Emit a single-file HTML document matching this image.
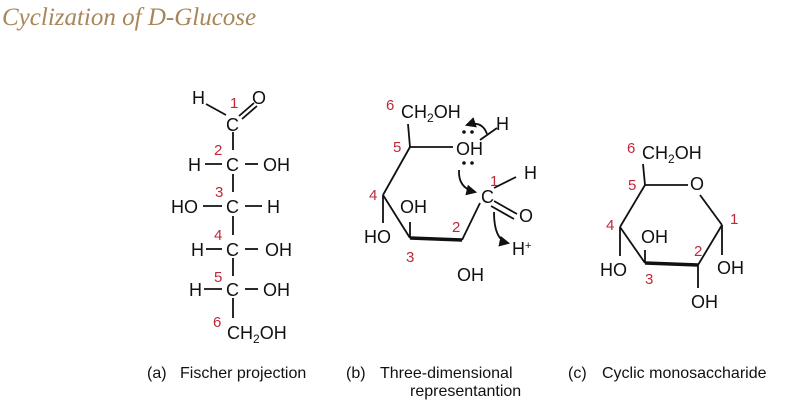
<!DOCTYPE html>
<html><head><meta charset="utf-8"><style>
html,body{margin:0;padding:0;background:#fff;}
svg{display:block;}
text{font-family:"Liberation Sans",sans-serif;}
.t{font-size:18px;fill:#111;}
.n{font-size:15px;fill:#c0283a;}
.c{font-size:16px;fill:#111;}
</style></head><body>
<svg width="800" height="405" viewBox="0 0 800 405" xmlns="http://www.w3.org/2000/svg">
<defs><marker id="ah" viewBox="0 0 10 10" refX="8" refY="5" markerWidth="6" markerHeight="6" orient="auto"><path d="M0,0 L10,5 L0,10 z" fill="#111"/></marker></defs>
<text x="2" y="25" style="font-family:'Liberation Serif',serif;font-style:italic;font-size:25px;fill:#a8865a">Cyclization of D-Glucose</text>
<g stroke="#111" stroke-width="1.8" fill="none">
<line x1="206" y1="104" x2="226" y2="115"/>
<line x1="239" y1="116" x2="254" y2="103"/><line x1="242" y1="119" x2="257" y2="106"/>
<line x1="233" y1="132" x2="233" y2="150"/>
<line x1="233" y1="174" x2="233" y2="192"/>
<line x1="233" y1="216" x2="233" y2="235"/>
<line x1="233" y1="258" x2="233" y2="276"/>
<line x1="233" y1="298" x2="233" y2="318"/>
<line x1="205" y1="164" x2="222" y2="164"/><line x1="245" y1="164" x2="258" y2="164"/>
<line x1="203" y1="206" x2="222" y2="206"/><line x1="245" y1="206" x2="262" y2="206"/>
<line x1="206" y1="249" x2="222" y2="249"/><line x1="245" y1="249" x2="258" y2="249"/>
<line x1="204" y1="289" x2="222" y2="289"/><line x1="245" y1="289" x2="258" y2="289"/>
<line x1="408" y1="124" x2="410" y2="147"/>
<line x1="410" y1="147" x2="453" y2="147"/>
<line x1="410" y1="147" x2="383" y2="195"/>
<line x1="383" y1="195" x2="410" y2="238"/>
<line x1="410" y1="238" x2="462" y2="240" stroke-width="3.5"/>
<line x1="462" y1="240" x2="480" y2="203"/>
<line x1="383" y1="195" x2="383" y2="223"/>
<line x1="410" y1="238" x2="410" y2="222"/>
<line x1="494" y1="188" x2="516" y2="177"/>
<line x1="494" y1="201" x2="517" y2="214"/><line x1="491" y1="206" x2="514" y2="219"/>
<line x1="480" y1="140" x2="497" y2="128"/>
<path d="M487,134 Q482,120 467,125" marker-end="url(#ah)"/>
<path d="M459,170 Q458,188 475,192" marker-end="url(#ah)"/>
<path d="M494,212 Q494,240 508,243" marker-end="url(#ah)"/>
<line x1="643" y1="164" x2="645" y2="185"/>
<line x1="645" y1="185" x2="688" y2="185"/>
<line x1="700" y1="195" x2="722" y2="225"/>
<line x1="722" y1="225" x2="698" y2="265"/>
<line x1="698" y1="265" x2="645" y2="263" stroke-width="3.5"/>
<line x1="645" y1="263" x2="620" y2="227"/>
<line x1="620" y1="227" x2="645" y2="185"/>
<line x1="645" y1="263" x2="645" y2="250"/>
<line x1="620" y1="227" x2="620" y2="256"/>
<line x1="722" y1="225" x2="722" y2="255"/>
<line x1="698" y1="265" x2="698" y2="288"/>
</g>
<g fill="#111"><circle cx="464" cy="132" r="1.8"/><circle cx="472" cy="132" r="1.8"/><circle cx="464" cy="163" r="1.8"/><circle cx="472" cy="163" r="1.8"/></g>
<text class="t" x="192" y="104">H</text><text class="t" x="252" y="104">O</text>
<text class="t" x="226" y="131">C</text>
<text class="t" x="188" y="171">H</text><text class="t" x="226" y="171">C</text><text class="t" x="263" y="171">OH</text>
<text class="t" x="171" y="213">HO</text><text class="t" x="226" y="213">C</text><text class="t" x="267" y="213">H</text>
<text class="t" x="191" y="256">H</text><text class="t" x="226" y="256">C</text><text class="t" x="265" y="256">OH</text>
<text class="t" x="189" y="296">H</text><text class="t" x="226" y="296">C</text><text class="t" x="263" y="296">OH</text>
<text class="t" x="227" y="339">CH<tspan font-size="12" dy="4">2</tspan><tspan dy="-4">OH</tspan></text>
<text class="n" x="230" y="108">1</text><text class="n" x="214" y="155">2</text><text class="n" x="215" y="197">3</text><text class="n" x="214" y="240">4</text><text class="n" x="214" y="282">5</text><text class="n" x="213" y="327">6</text>
<text class="t" x="401" y="118">CH<tspan font-size="12" dy="4">2</tspan><tspan dy="-4">OH</tspan></text>
<text class="t" x="456" y="155">OH</text>
<text class="t" x="496" y="130">H</text>
<text class="t" x="481" y="203">C</text>
<text class="t" x="524" y="179">H</text>
<text class="t" x="519" y="222">O</text>
<text class="t" x="512" y="255">H<tspan font-size="11" dy="-6">+</tspan></text>
<text class="t" x="400" y="213">OH</text>
<text class="t" x="364" y="243">HO</text>
<text class="t" x="457" y="281">OH</text>
<text class="n" x="386" y="110">6</text><text class="n" x="393" y="152">5</text><text class="n" x="369" y="200">4</text><text class="n" x="452" y="232">2</text><text class="n" x="406" y="262">3</text><text class="n" x="490" y="186">1</text>
<text class="t" x="642" y="159">CH<tspan font-size="12" dy="4">2</tspan><tspan dy="-4">OH</tspan></text>
<text class="t" x="690" y="190">O</text>
<text class="t" x="641" y="243">OH</text>
<text class="t" x="600" y="276">HO</text>
<text class="t" x="717" y="274">OH</text>
<text class="t" x="691" y="308">OH</text>
<text class="n" x="627" y="153">6</text><text class="n" x="628" y="190">5</text><text class="n" x="606" y="230">4</text><text class="n" x="730" y="224">1</text><text class="n" x="694" y="256">2</text><text class="n" x="645" y="284">3</text>
<text class="c" x="147" y="378">(a)</text><text class="c" x="180" y="378">Fischer projection</text>
<text class="c" x="346" y="378">(b)</text><text class="c" x="380" y="378">Three-dimensional</text><text class="c" x="410" y="396">representantion</text>
<text class="c" x="568" y="378">(c)</text><text class="c" x="602" y="378">Cyclic monosaccharide</text>
</svg>
</body></html>
